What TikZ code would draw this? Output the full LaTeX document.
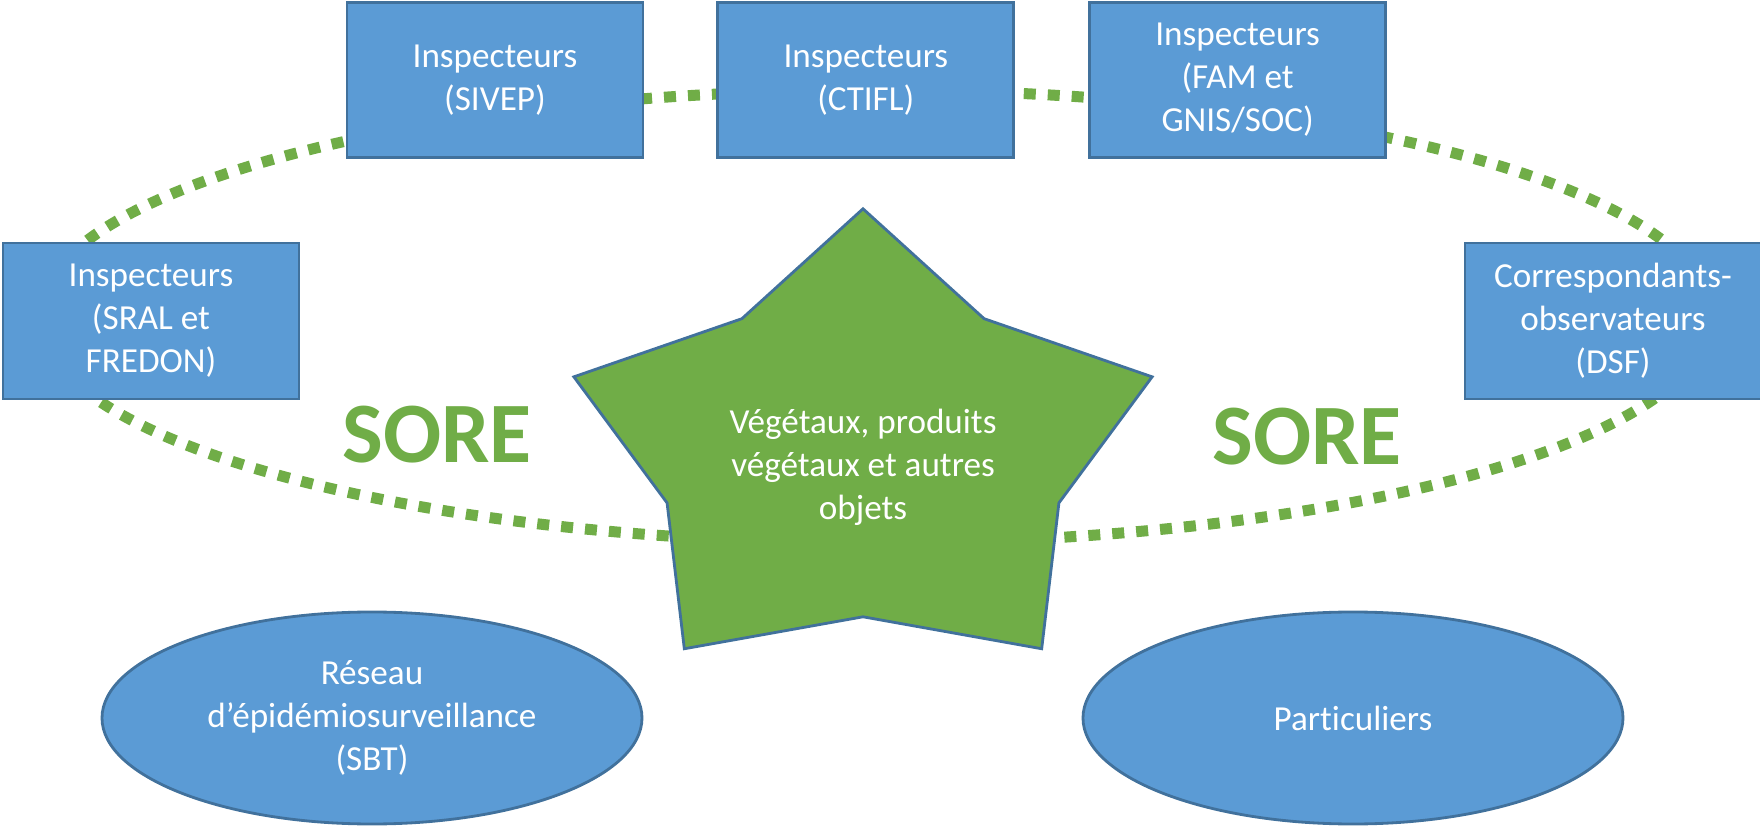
\documentclass[tikz,border=0pt]{standalone}
\usepackage{fontspec}
\setmainfont{Carlito}[RawFeature=-liga]
\usepackage{tikz}
\usetikzlibrary{positioning}
\usetikzlibrary{shapes.geometric}

\definecolor{boxblue}{HTML}{5B9BD5}
\definecolor{boxedge}{HTML}{41719C}
\definecolor{leafgreen}{HTML}{70AD47}

\tikzset{
  actor/.style={rectangle, draw=boxedge, line width=0.8pt, fill=boxblue, text=white,
    align=center, minimum width=2.96cm, minimum height=1.55cm,
    font=\fontsize{10}{12.2}\selectfont},
  oval/.style={ellipse, draw=boxedge, line width=0.8pt, fill=boxblue, text=white,
    align=center, minimum width=5.4cm, minimum height=2.12cm,
    font=\fontsize{10}{12.2}\selectfont},
  sore/.style={text=leafgreen, font=\fontsize{24.5}{28}\selectfont\bfseries},
  ring/.style={leafgreen, line width=0.11cm, dash pattern=on 0.12cm off 0.12cm},
}

\begin{document}
\begin{tikzpicture}
  \useasboundingbox (0,0) rectangle (17.6,8.25);

  % dotted circuit behind everything
  \draw[ring] (8.75,5.085) ellipse [x radius=8.36, y radius=2.265];

  % top row of inspectors
  \node[actor] (sivep) at (4.95,7.45) {Inspecteurs\\(SIVEP)};
  \node[actor, right=0.72cm of sivep] (ctifl) {Inspecteurs\\(CTIFL)};
  \node[actor, right=0.73cm of ctifl] (fam) {Inspecteurs\\(FAM et\\GNIS/SOC)};

  % side boxes
  \node[actor, minimum height=1.56cm] (sral) at (1.51,5.04) {Inspecteurs\\(SRAL et\\FREDON)};
  \node[actor, minimum height=1.56cm] (dsf) at (16.13,5.04) {Correspondants-\\observateurs\\(DSF)};

  % the star
  \coordinate (core) at (8.63,3.73);
  \draw[draw=boxedge, fill=leafgreen, line width=0.8pt, shift={(core)}, yscale=0.8]
    (90:3.04) -- (126:2.06) -- (162:3.04) -- (198:2.06) -- (234:3.04)
    -- (270:2.06) -- (306:3.04) -- (342:2.06) -- (18:3.04) -- (54:2.06) -- cycle;
  \node[text=white, align=center, font=\fontsize{10}{12.2}\selectfont] (goods) at (8.63,3.58)
    {Végétaux, produits\\végétaux et autres\\objets};

  \node[sore] (soreL) at (4.37,3.90) {SORE};
  \node[sore] (soreR) at (13.07,3.88) {SORE};

  % bottom ovals
  \node[oval] (sbt) at (3.72,1.07) {Réseau\\d’épidémiosurveillance\\(SBT)};
  \node[oval] (priv) at (13.53,1.07) {Particuliers};
\end{tikzpicture}
\end{document}
